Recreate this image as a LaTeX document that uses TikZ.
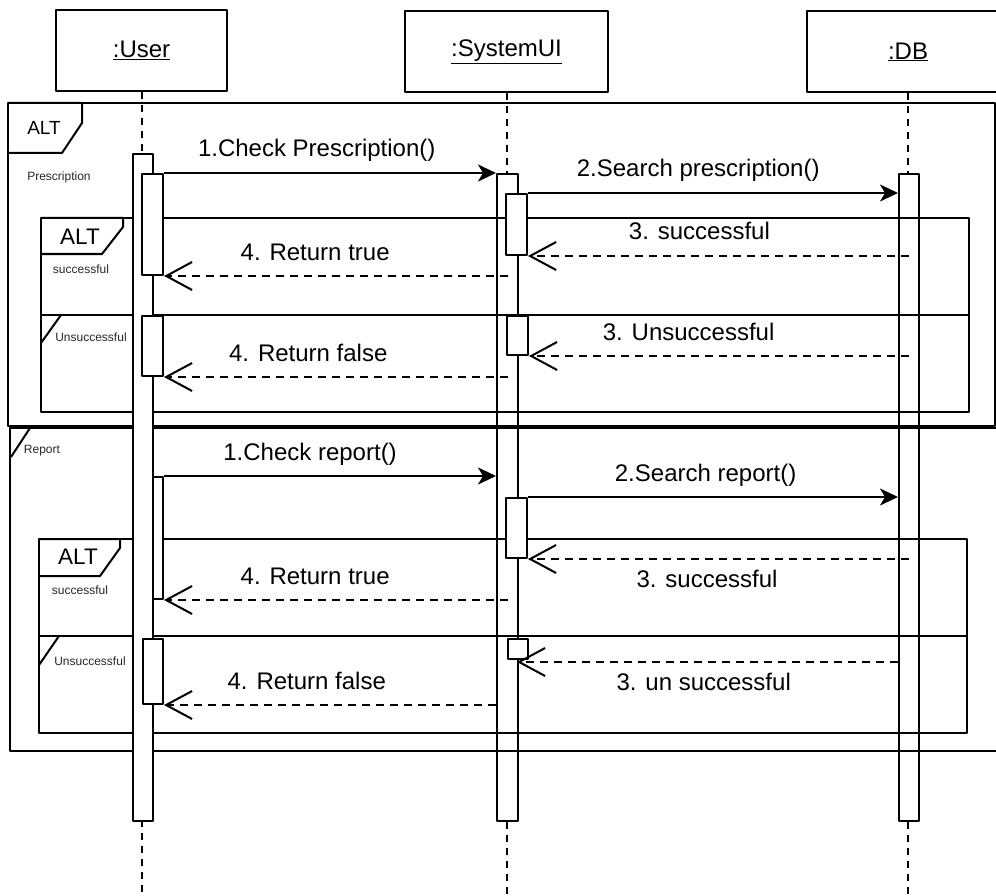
\documentclass[tikz,border=0pt]{standalone}
\usepackage{fontspec}
\setmainfont{Liberation Sans}
\usetikzlibrary{arrows.meta}

\begin{document}
\begin{tikzpicture}[x=1pt,y=-1pt,line width=2pt,line join=round,
	>={Stealth[length=18pt,width=17pt,inset=5pt]}]
	\tikzset{
		head/.style={draw,fill=white,minimum height=81pt,inner sep=0pt,font=\fontsize{24}{28}\selectfont},
		life/.style={dash pattern=on 7pt off 6pt},
		bar/.style={draw,fill=white,inner sep=0pt,anchor=north west},
		msg/.style={->},
		ret/.style={dash pattern=on 8pt off 6pt,-{Straight Barb[length=26pt,width=28pt]}},
		lbl/.style={font=\fontsize{24}{28}\selectfont,inner sep=2pt,text height=17pt,text depth=5pt},
		tab/.style={font=\fontsize{22.5}{26}\selectfont,inner sep=0pt},
		guard/.style={font=\fontsize{12}{14}\selectfont,inner sep=0pt,text=black!85}
	}
	\useasboundingbox (0,0) rectangle (996,896);
	\coordinate (bottom) at (0,896);
	% lifelines
	\node[head,minimum width=171pt] (user) at (141.5,50.5) {\underline{:User}};
	\node[head,minimum width=203pt] (sysui) at (506.5,52) {\underline{:SystemUI}};
	\node[head,minimum width=202pt] (db) at (908,52) {\underline{:DB}};
	\draw[life] (user.south) -- (user.south |- bottom);
	\draw[life] (sysui.south) -- (sysui.south |- bottom);
	\draw[life] (db.south) -- (db.south |- bottom);
	\node[bar,minimum width=21pt,minimum height=647pt] (sA) at (496,173) {};
	\node[bar,minimum width=20pt,minimum height=647pt] (dA) at (898,173) {};
	% alt frames
	\draw (8,103) rectangle (995,426);
	\draw (8,103) -- (82,103) -- (82,123) -- (62,153) -- (8,153);
	\node[font=\fontsize{19}{22}\selectfont,inner sep=0pt] (altA) at (44,128) {ALT};
	\node[guard] (presc) at (59,177) {Prescription};
	\draw (10,428) rectangle (1002,751);
	\draw (30,428) -- (11,457);
	\node[guard] (report) at (42,451) {Report};

	\draw (41,218) rectangle (969,412);
	\draw (41,315) -- (969,315);
	\draw (41,218) -| (123,227) -- (102,254) -- (41,254);
	\node[tab] (altB) at (80,237) {ALT};
	\node[guard] (succB) at (81,269) {successful};
	\draw (61,315) -- (41,343);
	\node[guard] (failB) at (91,337) {Unsuccessful};

	\draw (39,539) rectangle (967,733);
	\draw (39,636) -- (967,636);
	\draw (39,539) -| (120,548) -- (100,576) -- (39,576);
	\node[tab] (altC) at (78,557) {ALT};
	\node[guard] (succC) at (80,590) {successful};
	\draw (59,636) -- (39,665);
	\node[guard] (failC) at (90,661) {Unsuccessful};
	% activations
	\node[bar,minimum width=21pt,minimum height=122pt] (u3) at (141,476) {};
	\node[bar,minimum width=20pt,minimum height=667pt] (uA) at (132,153) {};
	\node[bar,minimum width=21pt,minimum height=101pt] (u1) at (141,173) {};
	\node[bar,minimum width=21pt,minimum height=60pt] (u2) at (141,315) {};
	\node[bar,minimum width=20pt,minimum height=65pt] (u4) at (142,638) {};
	\node[bar,minimum width=21pt,minimum height=61pt] (s1) at (505,193) {};
	\node[bar,minimum width=21pt,minimum height=39pt] (s2) at (506,315) {};
	\node[bar,minimum width=21pt,minimum height=60pt] (s3) at (505,497) {};
	\node[bar,minimum width=20pt,minimum height=20pt] (s4) at (507,638) {};
	\coordinate (s4r) at (517,662);
	% messages
	\draw[msg] (u1.north east) -- node[lbl,above=8pt,pos=0.46] (m1) {1.Check Prescription()} (sA.north west);
	\draw[msg] (s1.north east) -- node[lbl,above=8pt,pos=0.46] (m2) {2.Search prescription()} (dA.west |- s1.north);
	\draw[ret] (dA.center |- s1.south) -- node[lbl,above=8pt,pos=0.55] (m3) {3. successful} (s1.south east);
	\draw[ret] (sA.center |- u1.south) -- node[lbl,above=8pt,pos=0.56] (m4) {4. Return true} (u1.south east);
	\draw[ret] (dA.center |- s2.south) -- node[lbl,above=8pt,pos=0.58] (m5) {3. Unsuccessful} (s2.south east);
	\draw[ret] (sA.center |- u2.south) -- node[lbl,above=8pt,pos=0.58] (m6) {4. Return false} (u2.south east);

	\draw[msg] (u3.north east) -- node[lbl,above=8pt,pos=0.44] (r1) {1.Check report()} (sA.west |- u3.north);
	\draw[msg] (s3.north east) -- node[lbl,above=8pt,pos=0.48] (r2) {2.Search report()} (dA.west |- s3.north);
	\draw[ret] (dA.center |- s3.south) -- node[lbl,below=8pt,pos=0.53] (r3) {3. successful} (s3.south east);
	\draw[ret] (sA.center |- u3.south) -- node[lbl,above=8pt,pos=0.56] (r4) {4. Return true} (u3.south east);
	\draw[ret] (dA.west |- s4r) -- node[lbl,below=8pt,pos=0.51] (r5) {3. un successful} (s4r);
	\draw[ret] (sA.west |- u4.south) -- node[lbl,above=8pt,pos=0.57] (r6) {4. Return false} (u4.south east);
\end{tikzpicture}
\end{document}
